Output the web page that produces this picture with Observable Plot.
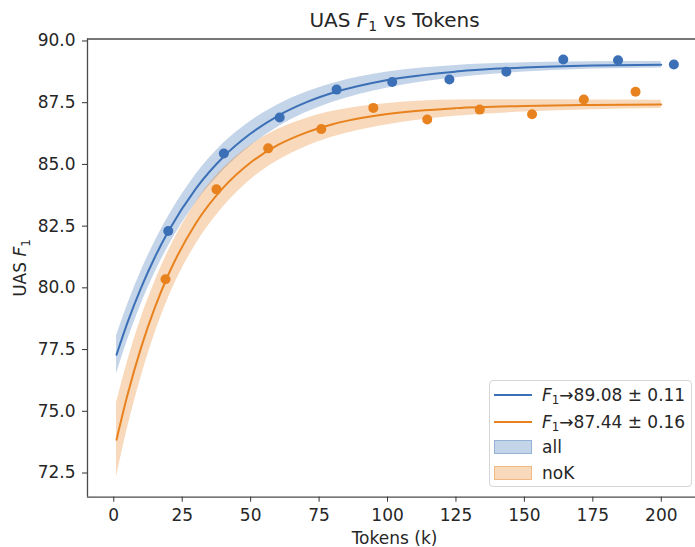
<!DOCTYPE html>
<html><head><meta charset="utf-8">
<script src="https://cdn.jsdelivr.net/npm/d3@7"></script>
<script src="https://cdn.jsdelivr.net/npm/@observablehq/plot@0.6"></script>
<style>
body{margin:0;background:#fff;font-family:"DejaVu Sans",sans-serif;overflow:hidden;color:#262626}
#wrap{position:relative;width:695px;height:547px}
#title{box-sizing:border-box;width:695px;height:30px;line-height:40px;padding-left:94px;text-align:center;font-size:20px;white-space:nowrap}
#title sub,.leg sub{font-size:0.7em;vertical-align:-0.25em;line-height:0}
#legend{position:absolute;left:489px;top:380px;width:203px;height:107px;box-sizing:border-box;border:1px solid #d6d6d6;border-radius:4px;background:rgba(255,255,255,0.85)}
.row{position:absolute;left:0;height:20px}
.sw{position:absolute;left:4px;width:38px}
.leg{position:absolute;left:52px;font-size:17px;white-space:nowrap;line-height:20px;top:-10px}
</style></head>
<body>
<div id="wrap">
<div id="title">UAS <i>F</i><sub>1</sub> vs Tokens</div>
<div id="chart"></div>
<div id="legend"></div>
</div>
<script>
// observed points
const allX = [19.9, 40.2, 60.6, 81.4, 101.7, 122.6, 143.4, 164.2, 184.2, 204.6];
const allY = [82.30, 85.44, 86.90, 88.03, 88.34, 88.44, 88.75, 89.25, 89.22, 89.05];
const noKX = [18.9, 37.5, 56.4, 75.8, 94.8, 114.5, 133.7, 152.8, 171.7, 190.6];
const noKY = [80.35, 83.99, 85.65, 86.43, 87.29, 86.82, 87.22, 87.03, 87.63, 87.94];
// fitted curves and bands
const fitX = [1, 5, 10, 15, 20, 30, 40, 50, 60, 70, 80, 100, 125, 150, 175, 200];
const allFit = [77.29, 78.59, 80.01, 81.24, 82.30, 84.02, 85.30, 86.25, 86.97, 87.50, 87.90, 88.42, 88.76, 88.93, 89.01, 89.04];
const allLo  = [76.52, 77.87, 79.34, 80.61, 81.70, 83.45, 84.75, 85.75, 86.52, 87.09, 87.52, 88.10, 88.51, 88.74, 88.86, 88.91];
const allHi  = [78.06, 79.31, 80.68, 81.87, 82.90, 84.59, 85.85, 86.75, 87.42, 87.91, 88.28, 88.74, 89.01, 89.12, 89.16, 89.17];
const noKFit = [73.85, 75.66, 77.59, 79.20, 80.55, 82.62, 84.06, 85.08, 85.79, 86.28, 86.63, 87.04, 87.28, 87.37, 87.41, 87.43];
const noKLo  = [72.35, 74.31, 76.39, 78.15, 79.60, 81.77, 83.28, 84.38, 85.16, 85.71, 86.11, 86.61, 86.95, 87.12, 87.21, 87.26];
const noKHi  = [75.35, 77.01, 78.79, 80.25, 81.50, 83.47, 84.84, 85.78, 86.42, 86.85, 87.15, 87.47, 87.61, 87.62, 87.61, 87.60];
const xTicks = [0, 25, 50, 75, 100, 125, 150, 175, 200];
const yTicks = [72.5, 75.0, 77.5, 80.0, 82.5, 85.0, 87.5, 90.0];
const legendLabels = ["89.08 ± 0.11", "87.44 ± 0.16"];
const seriesNames = ["all", "noK"];

const BLUE = "#3b70b6", ORANGE = "#e8821e";
const xDom = [-9.6, 212.5], yDom = [71.52, 90.08];

const pts = (xs, ys) => xs.map((x, i) => ({x, y: ys[i]}));
const fit = (f, lo, hi) => fitX.map((x, i) => ({x, y: f[i], lo: lo[i], hi: hi[i]}));
const allPts = pts(allX, allY), noKPts = pts(noKX, noKY);
const allRows = fit(allFit, allLo, allHi), noKRows = fit(noKFit, noKLo, noKHi);

const spine = {stroke: "#4a4a4a", strokeWidth: 1.3};
const svg = Plot.plot({
  width: 695, height: 517,
  marginTop: 8.5, marginBottom: 50.3, marginLeft: 87, marginRight: 0,
  x: {domain: xDom},
  y: {domain: yDom},
  style: {fontFamily: "DejaVu Sans", fontSize: "17px", color: "#262626", background: "white"},
  marks: [
    Plot.areaY(allRows, {x: "x", y1: "lo", y2: "hi", fill: BLUE, fillOpacity: 0.3, curve: "monotone-x"}),
    Plot.line(allRows, {x: "x", y: "y", stroke: BLUE, strokeWidth: 2, curve: "monotone-x"}),
    Plot.dot(allPts, {x: "x", y: "y", r: 5, fill: BLUE}),
    Plot.areaY(noKRows, {x: "x", y1: "lo", y2: "hi", fill: ORANGE, fillOpacity: 0.3, curve: "monotone-x"}),
    Plot.line(noKRows, {x: "x", y: "y", stroke: ORANGE, strokeWidth: 2, curve: "monotone-x"}),
    Plot.dot(noKPts, {x: "x", y: "y", r: 5, fill: ORANGE}),
    Plot.ruleX([xDom[0]], spine),
    Plot.ruleY([yDom[0]], spine),
    Plot.ruleY([yDom[1]], spine),
    Plot.axisX(xTicks, {tickSize: 5, tickPadding: 7, fontSize: 17, stroke: "#333", label: null}),
    Plot.axisY(yTicks, {tickSize: 5, tickPadding: 7, fontSize: 17, stroke: "#333", tickFormat: ".1f", label: null})
  ]
});
document.getElementById("chart").appendChild(svg);

const s = d3.select(svg);
const yl = s.append("text")
  .attr("transform", "translate(26,238) rotate(-90)")
  .attr("text-anchor", "middle").attr("font-size", 17).attr("fill", "#262626");
yl.append("tspan").text("UAS ");
yl.append("tspan").attr("font-style", "italic").text("F");
yl.append("tspan").attr("font-size", 12).attr("dy", 4).text("1");
s.append("text")
  .attr("x", 394.5).attr("y", 514).attr("text-anchor", "middle")
  .attr("font-size", 17).attr("fill", "#262626").text("Tokens (k)");

// legend
const leg = d3.select("#legend");
const rowsY = [14, 40.5, 66, 91.5];
const colors = [BLUE, ORANGE];
legendLabels.forEach((t, i) => {
  const r = leg.append("div").attr("class", "row").style("top", rowsY[i] + "px");
  r.append("div").attr("class", "sw").style("top", "-1px").style("height", "2px").style("background", colors[i]);
  r.append("div").attr("class", "leg").html("<i>F</i><sub>1</sub>→" + t);
});
seriesNames.forEach((t, i) => {
  const r = leg.append("div").attr("class", "row").style("top", rowsY[i + 2] + "px");
  r.append("div").attr("class", "sw").style("top", "-7px").style("height", "14px")
    .style("box-sizing", "border-box")
    .style("background", d3.color(colors[i]).copy({opacity: 0.3}))
    .style("border", "1px solid " + d3.color(colors[i]).copy({opacity: 0.35}));
  r.append("div").attr("class", "leg").text(t);
});
</script>
</body></html>
